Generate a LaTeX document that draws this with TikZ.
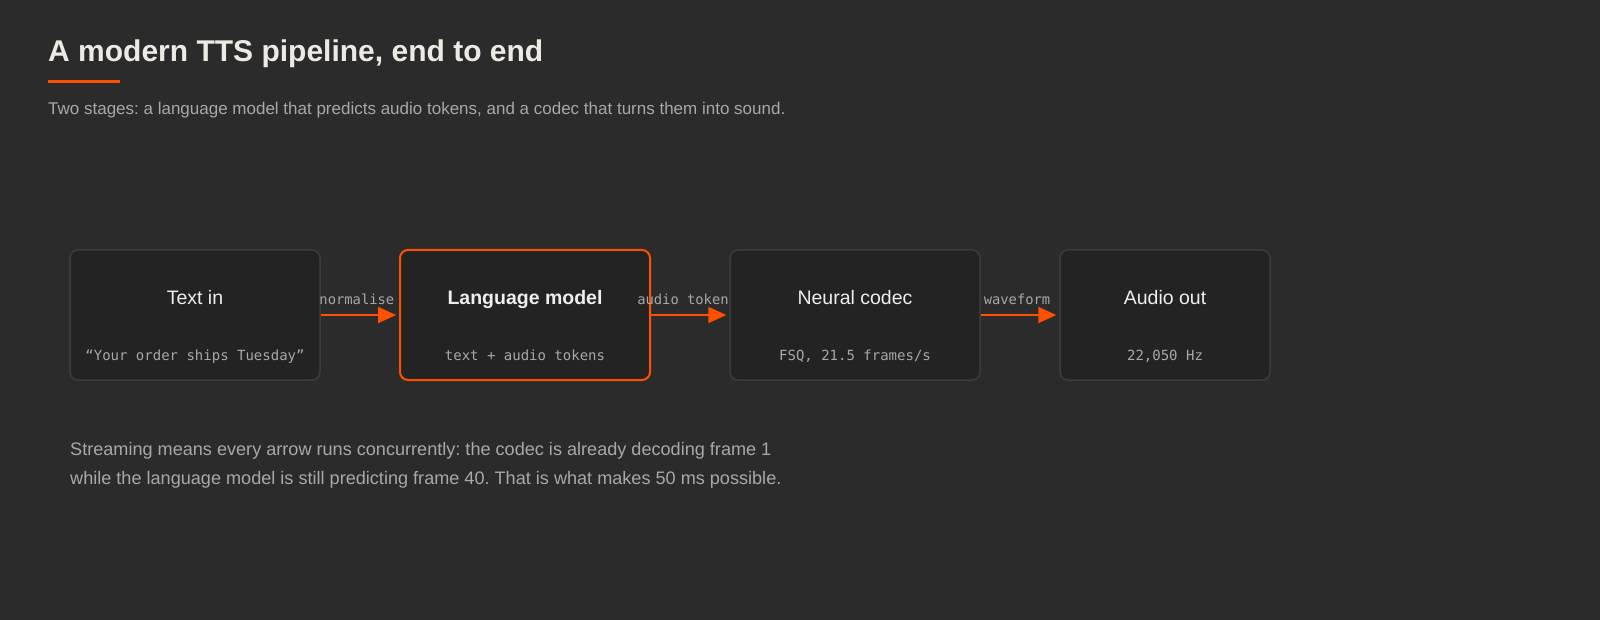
\documentclass[tikz,border=0pt]{standalone}
\usepackage{fontspec}
\setmainfont{Liberation Sans}
\setmonofont{DejaVu Sans Mono}
\usetikzlibrary{arrows.meta}
\frenchspacing
\definecolor{bgdark}{HTML}{2B2B2B}
\definecolor{boxfill}{HTML}{232323}
\definecolor{boxline}{HTML}{3C3C3C}
\definecolor{accent}{HTML}{FF4F00}
\definecolor{inktitle}{HTML}{EDEAE4}
\definecolor{inkmuted}{HTML}{A8A8A8}
\definecolor{inkbox}{HTML}{EEEEEE}
\pgfdeclarelayer{back}
\pgfdeclarelayer{mid}
\pgfsetlayers{back,mid,main}
\tikzset{
  stage/.style={draw=boxline, line width=1.5pt, fill=boxfill, rounded corners=8pt,
    minimum width=250pt, minimum height=130pt, inner sep=0pt},
  hotstage/.style={stage, draw=accent, line width=2pt},
  stagename/.style={text=inkbox, font=\fontsize{19.5}{19.5}\selectfont, anchor=base, inner sep=0pt},
  stagenote/.style={text=inkmuted, font=\ttfamily\fontsize{14}{14}\selectfont, anchor=base, inner sep=0pt},
  flow/.style={draw=accent, line width=2pt, -{Triangle[length=18pt,width=16pt]}, shorten >=3pt},
  flowlabel/.style={text=inkmuted, font=\ttfamily\fontsize{13.8}{13.8}\selectfont, anchor=base, inner sep=0pt},
}
\begin{document}
\begin{tikzpicture}[x=1pt, y=-1pt]
  \useasboundingbox (0,0) rectangle (1600,620);
  % stages 1 and 2 sit under the arrow labels
  \begin{pgfonlayer}{back}
    \fill[bgdark] (0,0) rectangle (1600,620);
    \node[stage] (textin) at (195,315) {};
    \node[stagename] (textin-name) at ([yshift=10pt]textin.center) {Text in};
    \node[stagenote] (textin-note) at ([yshift=-45pt]textin.center) {“Your order ships Tuesday”};
    \node[hotstage] (lm) at (525,315) {};
    \node[stagename, font=\bfseries\fontsize{19.5}{19.5}\selectfont] (lm-name) at ([yshift=10pt]lm.center) {Language model};
    \node[stagenote] (lm-note) at ([yshift=-45pt]lm.center) {text + audio tokens};
  \end{pgfonlayer}
  % heading
  \node (title) at (48,62) [anchor=base west, inner sep=0pt, text=inktitle, font=\bfseries\fontsize{30}{30}\selectfont] {A modern TTS pipeline, end to end};
  \fill[accent] (48,80) rectangle (120,83);
  \node (subtitle) at (48,115) [anchor=base west, inner sep=0pt, text=inkmuted, font=\fontsize{17}{17}\selectfont] {Two stages: a language model that predicts audio tokens, and a codec that turns them into sound.};
  % stages 3 and 4 cover them
  \node[stage] (codec) at (855,315) {};
  \node[stagename] (codec-name) at ([yshift=10pt]codec.center) {Neural codec};
  \node[stagenote] (codec-note) at ([yshift=-45pt]codec.center) {FSQ, 21.5 frames/s};
  \node[stage, minimum width=210pt] (audioout) at (1165,315) {};
  \node[stagename] (audioout-name) at ([yshift=10pt]audioout.center) {Audio out};
  \node[stagenote] (audioout-note) at ([yshift=-45pt]audioout.center) {22,050 Hz};
  % arrows
  \begin{pgfonlayer}{mid}
    \draw[flow] (textin) -- (lm) node[flowlabel, midway, yshift=10pt, xshift=-3pt] {normalise};
    \draw[flow] (lm) -- (codec) node[flowlabel, midway, yshift=10pt, xshift=-3pt] {audio tokens};
    \draw[flow] (codec) -- (audioout) node[flowlabel, midway, yshift=10pt, xshift=-3pt] {waveform};
  \end{pgfonlayer}
  % note
  \node (note1) at (70,455) [anchor=base west, inner sep=0pt, text=inkmuted, font=\fontsize{18.1}{18.1}\selectfont] {Streaming means every arrow runs concurrently: the codec is already decoding frame 1};
  \node (note2) at (70,484) [anchor=base west, inner sep=0pt, text=inkmuted, font=\fontsize{18.1}{18.1}\selectfont] {while the language model is still predicting frame 40. That is what makes 50 ms possible.};
\end{tikzpicture}
\end{document}
